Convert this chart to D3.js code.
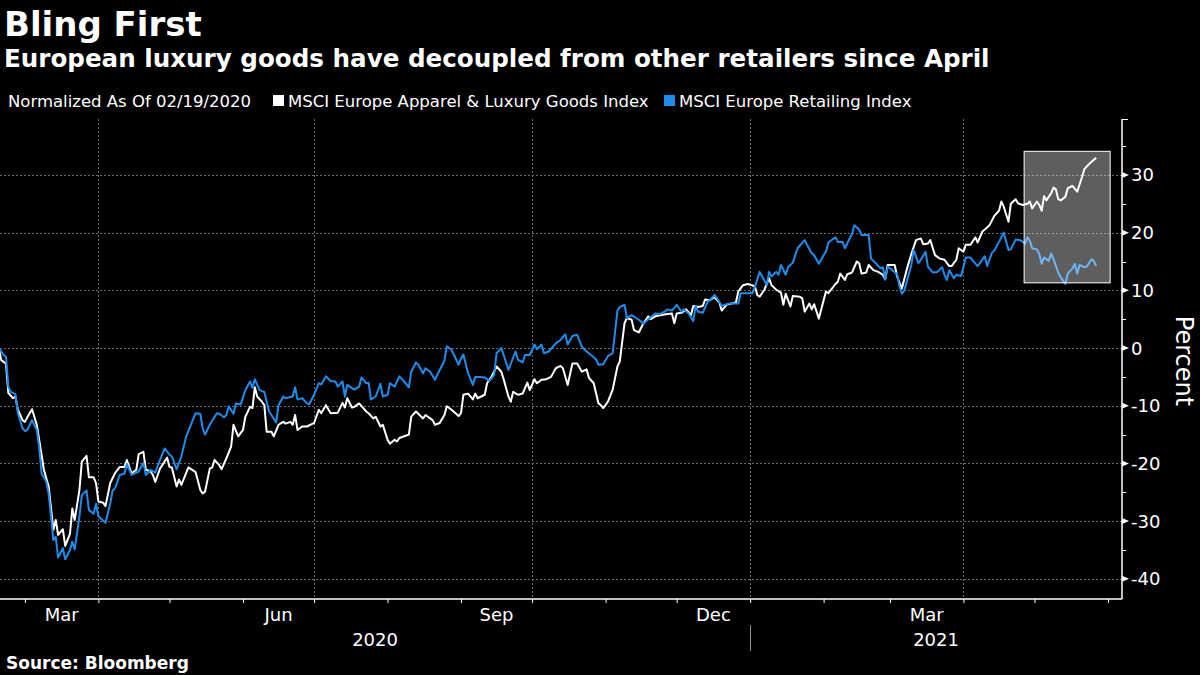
<!DOCTYPE html>
<html><head><meta charset="utf-8">
<script src="https://cdn.jsdelivr.net/npm/d3@7"></script>
<style>
html,body{margin:0;padding:0;background:#000;}
svg{display:block;}
</style></head><body>
<svg id="chart" width="1200" height="675"></svg>
<script>
// ---------------- data ----------------
const titleText = "Bling First";
const subtitleText = "European luxury goods have decoupled from other retailers since April";
const legendNote = "Normalized As Of 02/19/2020";
const seriesNames = ["MSCI Europe Apparel & Luxury Goods Index", "MSCI Europe Retailing Index"];
const seriesColors = ["#ffffff", "#1f8ceb"];
const sourceText = "Source: Bloomberg";
const axisTitle = "Percent";
const baseDate = "2020-02-18";   // day 0 of the day offsets below
const xDomainDays = [1.48, 474.9]; // visible time window, in days since baseDate
const yMajorTicks = [-40, -30, -20, -10, 0, 10, 20, 30];
const yMinorTicks = [-35, -25, -15, -5, 5, 15, 25, 35];
const yDomain = [-43.5, 39.7];
const monthLabels = [
  {month: "2020-03-01", label: "Mar"},
  {month: "2020-06-01", label: "Jun"},
  {month: "2020-09-01", label: "Sep"},
  {month: "2020-12-01", label: "Dec"},
  {month: "2021-03-01", label: "Mar"}
];
const yearLabels = ["2020", "2021"];
const gridMonths = ["2020-04-01", "2020-07-01", "2020-10-01", "2021-01-01", "2021-04-01"];
const highlight = {startDay: 433.6, endDay: 469.9, top: 34.1, bottom: 11.3};

// calendar days since baseDate and percent change since 02/19/2020
const luxDays = [1,2,4,5,7,8,9,11,12,13,15,17,18,20,22,24,25,26,28,29,31,32,33,35,36,38,39,41,42,43,45,46,48,50,52,54,55,57,59,60,62,63,65,66,67,69,72,73,74,76,77,78,81,84,86,87,88,90,91,92,94,95,97,99,100,102,104,105,107,108,109,110,112,113,114,116,117,119,121,122,124,125,126,127,129,131,133,134,136,137,139,141,144,146,147,148,150,151,153,156,157,159,160,162,163,165,166,168,169,170,172,174,175,177,180,181,184,185,187,189,190,192,195,196,197,199,201,202,203,206,207,209,211,213,214,216,217,218,220,222,224,225,227,228,230,232,234,236,238,239,241,243,245,247,249,250,252,254,255,256,258,260,262,263,265,266,268,269,271,273,275,276,278,280,283,285,286,287,289,291,293,294,296,298,299,301,303,305,306,308,310,312,313,315,317,320,321,322,324,326,327,329,331,332,333,335,336,339,340,341,343,344,345,347,349,350,351,354,355,356,358,359,361,363,364,365,367,368,370,372,374,375,376,379,380,382,384,386,388,390,391,393,394,396,398,400,402,403,405,406,408,409,411,413,414,416,418,419,421,423,424,425,427,428,430,431,433,435,436,437,439,440,441,442,443,445,446,447,448,449,451,452,454,456,458,459,461,464];
const luxValues = [0,-2.1,-2.7,-7.8,-8.7,-8.4,-10.7,-12.5,-12.8,-12.0,-10.6,-13.3,-15.9,-21.1,-24.0,-31.5,-29.8,-32.4,-31.4,-34.3,-32.2,-27.8,-29.8,-24.6,-19.7,-18.7,-22.4,-22.4,-23.4,-26.6,-26.8,-27.4,-23.4,-21.7,-20.6,-20.6,-19.4,-21.7,-21.1,-18.4,-18.0,-21.1,-21.4,-22.0,-23.2,-20.9,-19.0,-20.6,-20.7,-24.0,-22.8,-23.7,-20.7,-21.5,-24.6,-25.2,-24.9,-20.9,-20.7,-19.4,-20.3,-21.0,-19.1,-17.1,-13.3,-15.3,-14.2,-11.9,-10.2,-10.4,-6.8,-8.4,-9.3,-9.9,-14.5,-14.5,-15.3,-13.3,-12.8,-13.1,-12.8,-13.3,-11.6,-14.2,-13.6,-13.6,-13.2,-13.0,-10.7,-11.3,-9.9,-11.3,-11.2,-9.5,-10.3,-8.7,-10.3,-10.2,-9.6,-11.0,-11.3,-12.2,-11.9,-13.6,-13.3,-15.9,-16.6,-15.9,-16.2,-15.6,-15.3,-15.0,-11.9,-11.0,-12.2,-11.6,-12.5,-13.3,-13.0,-11.6,-10.1,-10.7,-11.8,-11.3,-8.1,-7.9,-8.9,-7.9,-8.7,-8.1,-6.1,-4.9,-3.2,-4.1,-5.4,-8.4,-9.3,-7.6,-8.1,-7.9,-6.0,-7.3,-5.4,-6.1,-5.5,-5.4,-5.0,-3.5,-3.1,-3.5,-6.4,-2.7,-2.7,-4.1,-3.7,-5.2,-6.1,-9.6,-9.9,-10.4,-9.3,-7.2,-3.2,-2.3,4.3,5.2,4.9,3.1,2.7,4.3,5.5,5.0,5.5,5.7,5.9,6.0,4.3,6.0,6.1,6.7,5.7,7.3,7.1,7.3,8.4,8.3,8.8,7.9,6.5,7.5,7.7,7.9,9.8,10.9,11.1,10.7,9.2,8.9,10.1,12.1,10.9,10.1,9.6,7.5,9.4,7.2,9.0,8.9,8.6,6.3,7.7,6.7,7.6,5.1,8.3,9.8,9.5,11.1,11.5,12.9,11.8,12.8,13.1,15.0,14.7,12.9,13.1,14.4,13.5,13.2,12.7,11.9,14.4,14.4,12.4,10.3,13.5,16.3,18.7,19.0,18.0,18.1,18.7,16.1,15.5,15.3,14.2,14.2,15.3,17.3,16.7,17.9,17.9,19.2,18.3,20.2,20.9,21.3,22.9,23.8,25.4,24.5,21.9,25.0,25.8,25.1,24.8,25.0,25.4,24.2,25.4,24.8,23.8,26.3,25.6,26.8,27.8,27.5,25.8,25.6,26.2,27.7,28.1,27.1,29.6,31.0,31.9,33.0];

const retDays = [1,3,4,5,6,8,9,11,12,13,15,17,18,19,21,22,24,25,26,28,29,31,32,33,35,36,38,39,41,42,43,46,48,49,50,52,54,55,57,60,62,63,65,67,69,71,73,74,76,78,80,82,84,86,87,88,90,91,93,94,96,97,98,100,101,103,105,107,108,109,111,113,115,116,118,119,121,122,125,126,127,129,131,132,134,136,137,139,141,143,144,146,147,148,151,153,154,156,157,158,160,162,163,165,166,168,170,172,174,175,177,178,180,181,183,185,187,189,190,192,195,196,197,199,201,202,204,206,208,210,211,213,214,216,219,220,222,223,225,227,228,230,231,233,236,238,240,241,243,245,247,249,252,253,254,256,258,260,262,263,265,266,268,271,273,275,278,280,282,283,285,287,289,290,292,294,295,296,298,300,301,303,305,306,309,313,314,317,319,320,322,323,325,326,327,329,330,331,333,334,336,338,341,342,344,345,347,349,350,351,354,355,357,358,360,361,362,364,365,368,369,371,373,374,375,376,378,380,381,382,383,385,386,387,389,390,392,393,395,397,399,400,401,402,404,405,407,409,411,412,414,417,418,420,421,423,425,427,428,430,432,434,435,436,437,439,440,441,442,444,445,446,448,449,451,452,454,455,456,457,459,460,462,463,464];
const retValues = [0,-1.2,-1.5,-6.7,-7.6,-8.0,-11.3,-13.9,-14.4,-14.2,-12.5,-14.2,-17.1,-21.7,-23.2,-25.2,-33.3,-32.7,-36.3,-34.7,-36.6,-35.0,-33.6,-34.9,-29.2,-25.5,-24.7,-28.1,-28.7,-27.0,-29.2,-30.3,-26.9,-24.7,-24.3,-22.0,-21.8,-20.1,-22.0,-21.4,-19.9,-22.0,-21.1,-21.6,-19.4,-17.4,-18.5,-18.8,-21.0,-18.8,-15.4,-13.3,-11.3,-11.4,-13.9,-15.0,-13.3,-12.6,-11.3,-11.4,-12.0,-11.6,-10.1,-11.4,-9.6,-9.8,-7.3,-5.8,-6.9,-5.4,-7.3,-7.6,-11.0,-11.6,-12.9,-9.9,-8.4,-8.7,-8.4,-6.8,-8.9,-8.7,-9.6,-9.7,-8.1,-6.1,-6.3,-4.9,-5.7,-5.8,-6.7,-5.8,-8.4,-6.4,-7.2,-6.7,-5.1,-6.1,-6.0,-8.9,-8.4,-6.2,-8.4,-8.1,-6.1,-6.7,-4.9,-5.8,-6.8,-4.1,-2.5,-2.9,-4.4,-3.5,-4.1,-5.5,-3.8,-2.2,0.3,-0.3,-2.9,-1.8,-1.1,-4.4,-6.4,-5.0,-5.0,-5.1,-5.7,-4.7,-0.9,0.0,-1.2,-3.8,-0.6,-2.0,-2.5,-1.2,-1.2,0.6,-0.2,0.6,-0.9,-0.6,0.8,1.4,2.4,0.6,2.1,2.3,0.2,-0.6,-1.6,-2.0,-2.9,-2.8,-1.4,-0.9,6.5,7.1,7.5,5.2,5.7,4.9,4.2,5.0,6.0,5.9,6.3,6.7,6.5,7.5,6.3,6.7,6.0,4.7,7.3,6.3,6.1,8.0,8.3,9.2,8.0,7.3,7.7,7.7,9.5,9.5,9.5,10.6,13.2,12.5,10.9,13.2,12.4,13.2,12.7,14.4,12.7,14.0,14.8,17.3,18.7,17.9,16.4,16.1,14.6,16.1,16.7,18.3,19.2,18.4,18.4,17.3,19.0,19.8,21.3,20.5,19.6,19.6,15.5,14.7,13.8,14.0,11.9,14.1,13.5,12.8,10.7,9.4,9.9,12.9,14.4,17.0,14.7,15.3,16.7,14.1,13.1,13.2,14.0,12.7,11.8,13.5,12.1,12.7,12.5,15.7,15.7,15.1,14.2,15.9,14.2,16.5,16.9,18.4,20.0,17.0,17.1,18.8,18.7,18.1,19.2,18.6,17.3,17.1,16.3,14.6,15.7,15.1,16.4,15.4,13.1,12.3,11.1,12.9,13.8,14.6,12.9,14.4,14.0,14.1,15.4,15.1,14.2];

// ---------------- chart ----------------
const W = 1200, H = 675;
const plot = {left: 0, right: 1122, top: 119, bottom: 599};
const FONT = "'DejaVu Sans', sans-serif";
const svg = d3.select("#chart");
svg.append("rect").attr("width", W).attr("height", H).attr("fill", "#000");

const parse = d3.utcParse("%Y-%m-%d");
const t0 = parse(baseDate);
const dayToDate = d => new Date(t0.getTime() + d * 864e5);
const xStart = dayToDate(xDomainDays[0]), xEnd = dayToDate(xDomainDays[1]);

const x = d3.scaleUtc().domain([xStart, xEnd]).range([plot.left, plot.right]);
const y = d3.scaleLinear().domain(yDomain).range([plot.bottom, plot.top]);

const series = [
  {name: seriesNames[0], color: seriesColors[0], pts: luxDays.map((d, i) => ({date: dayToDate(d), v: luxValues[i]}))},
  {name: seriesNames[1], color: seriesColors[1], pts: retDays.map((d, i) => ({date: dayToDate(d), v: retValues[i]}))}
];

// clip for plot area
svg.append("clipPath").attr("id", "plotClip").append("rect")
  .attr("x", plot.left).attr("y", plot.top - 10)
  .attr("width", plot.right - plot.left).attr("height", plot.bottom - plot.top + 10);

// grid
const grid = svg.append("g").attr("stroke", "#6a6a6a").attr("stroke-width", 1).attr("stroke-dasharray", "2,2");
grid.selectAll("line.h").data(yMajorTicks).join("line")
  .attr("x1", plot.left).attr("x2", plot.right)
  .attr("y1", d => Math.round(y(d)) + 0.5).attr("y2", d => Math.round(y(d)) + 0.5);
grid.selectAll("line.v").data(gridMonths.map(parse)).join("line")
  .attr("y1", plot.top).attr("y2", plot.bottom)
  .attr("x1", d => Math.round(x(d)) + 0.5).attr("x2", d => Math.round(x(d)) + 0.5);

// lines
const line = d3.line().x(d => x(d.date)).y(d => y(d.v));
svg.append("g").attr("clip-path", "url(#plotClip)").selectAll("path").data(series).join("path")
  .attr("d", s => line(s.pts))
  .attr("fill", "none").attr("stroke", s => s.color)
  .attr("stroke-width", 2).attr("stroke-linejoin", "round");

// highlight box
svg.append("rect")
  .attr("x", x(dayToDate(highlight.startDay)))
  .attr("y", y(highlight.top))
  .attr("width", x(dayToDate(highlight.endDay)) - x(dayToDate(highlight.startDay)))
  .attr("height", y(highlight.bottom) - y(highlight.top))
  .attr("fill", "#ffffff").attr("fill-opacity", 0.37)
  .attr("stroke", "#ffffff").attr("stroke-width", 1);

// x axis
const xAxisG = svg.append("g").attr("transform", `translate(0,${plot.bottom})`);
const monthTicks = d3.utcMonth.range(d3.utcMonth.ceil(xStart), xEnd);
xAxisG.call(d3.axisBottom(x).tickValues(monthTicks).tickSize(4).tickFormat("").tickSizeOuter(0))
  .call(g => g.select(".domain").remove())
  .call(g => g.selectAll(".tick line").attr("stroke", "#fff").attr("stroke-width", 1));
svg.append("line").attr("x1", plot.left).attr("x2", plot.right)
  .attr("y1", plot.bottom).attr("y2", plot.bottom)
  .attr("stroke", "#fff").attr("stroke-width", 1.5);

svg.append("g").selectAll("text").data(monthLabels).join("text")
  .attr("x", d => { const m = parse(d.month); return (x(m) + x(d3.utcMonth.offset(m, 1))) / 2; })
  .attr("y", 621).attr("text-anchor", "middle")
  .attr("fill", "#fff").attr("font-family", FONT).attr("font-size", 18)
  .text(d => d.label);

const jan21 = parse("2021-01-01");
const yearSpans = [[xStart, jan21], [jan21, xEnd]];
svg.append("g").selectAll("text").data(yearLabels).join("text")
  .attr("x", (d, i) => (x(yearSpans[i][0]) + x(yearSpans[i][1])) / 2)
  .attr("y", 646).attr("text-anchor", "middle")
  .attr("fill", "#fff").attr("font-family", FONT).attr("font-size", 18)
  .text(d => d);
svg.append("line").attr("x1", Math.round(x(jan21)) + 0.5).attr("x2", Math.round(x(jan21)) + 0.5)
  .attr("y1", 625).attr("y2", 651).attr("stroke", "#8a8a8a").attr("stroke-width", 1);

// y axis
svg.append("line").attr("x1", plot.right).attr("x2", plot.right)
  .attr("y1", plot.top).attr("y2", plot.bottom)
  .attr("stroke", "#fff").attr("stroke-width", 1.5);
svg.append("line").attr("x1", plot.right).attr("x2", plot.right + 6)
  .attr("y1", plot.top + 0.5).attr("y2", plot.top + 0.5)
  .attr("stroke", "#fff").attr("stroke-width", 1);
svg.append("g").selectAll("line").data(yMinorTicks).join("line")
  .attr("x1", plot.right).attr("x2", plot.right + 4)
  .attr("y1", d => Math.round(y(d)) + 0.5).attr("y2", d => Math.round(y(d)) + 0.5)
  .attr("stroke", "#fff").attr("stroke-width", 1);
svg.append("g").selectAll("path").data(yMajorTicks).join("path")
  .attr("d", d => { const yy = y(d); return `M${plot.right},${yy - 3}L${plot.right + 7},${yy}L${plot.right},${yy + 3}Z`; })
  .attr("fill", "#fff");
svg.append("g").selectAll("text").data(yMajorTicks).join("text")
  .attr("x", plot.right + 9).attr("y", d => y(d)).attr("dy", "0.36em")
  .attr("fill", "#fff").attr("font-family", FONT).attr("font-size", 18)
  .text(d => String(d));
svg.append("text")
  .attr("transform", `translate(1176,${(y(yDomain[0]) + y(yDomain[1])) / 2 + 2}) rotate(90)`)
  .attr("text-anchor", "middle").attr("fill", "#fff")
  .attr("font-family", FONT).attr("font-size", 24).text(axisTitle);

// titles
svg.append("text").attr("x", 4).attr("y", 36).attr("fill", "#fff")
  .attr("font-family", FONT).attr("font-weight", "bold").attr("font-size", 34).text(titleText);
svg.append("text").attr("x", 4).attr("y", 67).attr("fill", "#fff")
  .attr("font-family", FONT).attr("font-weight", "bold").attr("font-size", 24.6).text(subtitleText);

// legend
const lg = svg.append("g").attr("font-family", FONT).attr("font-size", 16.5).attr("fill", "#fff");
lg.append("text").attr("x", 8).attr("y", 107).text(legendNote);
const legendPos = [{sq: 273, tx: 288}, {sq: 664, tx: 679}];
series.forEach((s, i) => {
  lg.append("rect").attr("x", legendPos[i].sq).attr("y", 95).attr("width", 11).attr("height", 11).attr("fill", s.color);
  lg.append("text").attr("x", legendPos[i].tx).attr("y", 107).text(s.name);
});

// source
svg.append("text").attr("x", 6).attr("y", 669).attr("fill", "#fff")
  .attr("font-family", FONT).attr("font-weight", "bold").attr("font-size", 17).text(sourceText);
</script>
</body></html>
